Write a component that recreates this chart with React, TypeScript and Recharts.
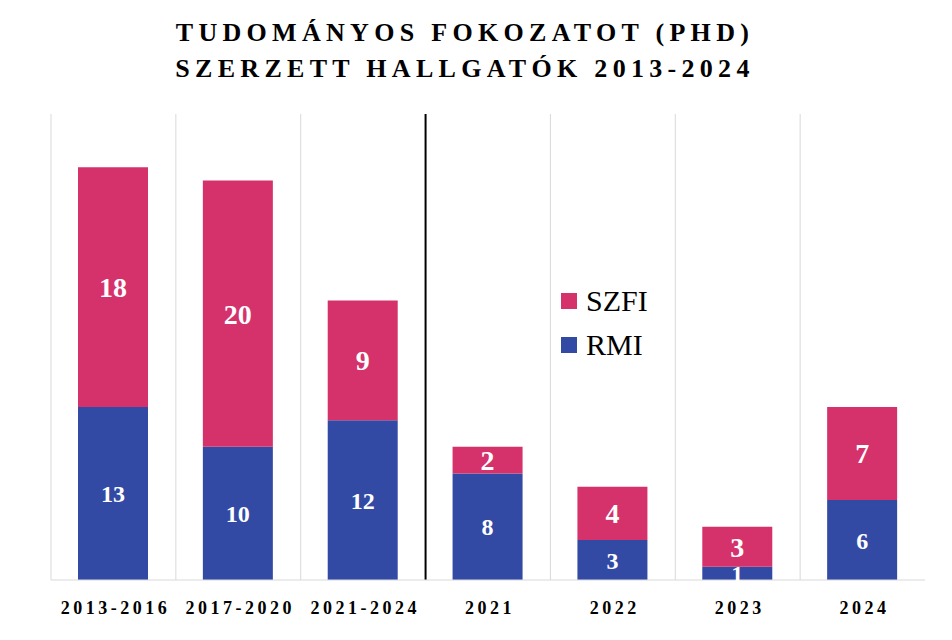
import React from 'react';
import { BarChart, Bar, XAxis, YAxis, LabelList, ReferenceLine, Legend } from 'recharts';

const categories = ['2013-2016', '2017-2020', '2021-2024', '2021', '2022', '2023', '2024'];
const rmiValues = [13, 10, 12, 8, 3, 1, 6];
const szfiValues = [18, 20, 9, 2, 4, 3, 7];
const titleLines = ['TUDOMÁNYOS FOKOZATOT (PHD)', 'SZERZETT HALLGATÓK 2013-2024'];
const gridBefore = ['2013-2016', '2017-2020', '2021-2024', '2022', '2023', '2024'];
const dividerBefore = '2021';

const data = categories.map((c, i) => ({ cat: c, RMI: rmiValues[i], SZFI: szfiValues[i] }));

const SERIF = '"Liberation Serif", "Times New Roman", serif';
const PINK = '#D5316B';
const BLUE = '#334AA5';

const CatTick = (props: any) => {
  const { x, y, payload } = props;
  return (
    <text
      x={x + 2}
      y={y}
      dy={26}
      textAnchor="middle"
      fontFamily={SERIF}
      fontWeight="bold"
      fontSize={18}
      fill="#000"
      style={{ letterSpacing: '3.5px' }}
    >
      {payload.value}
    </text>
  );
};

const LegendContent = (props: any) => {
  const items = [...(props.payload || [])].reverse();
  return (
    <div>
      {items.map((it: any) => (
        <div key={it.value} style={{ display: 'flex', alignItems: 'center', height: 44 }}>
          <div style={{ width: 16, height: 16, background: it.color, marginRight: 9 }} />
          <span style={{ fontFamily: SERIF, fontSize: 30, lineHeight: '44px', color: '#000' }}>{it.value}</span>
        </div>
      ))}
    </div>
  );
};

export default function App() {
  return (
    <div style={{ position: 'absolute', left: 0, top: 0, width: 952, height: 640, background: '#fff' }}>
      <div
        style={{
          position: 'absolute',
          left: 0,
          top: 15,
          width: 930,
          textAlign: 'center',
          fontFamily: SERIF,
          fontWeight: 'bold',
          fontSize: 26,
          lineHeight: '36px',
          letterSpacing: '5.3px',
          color: '#000',
        }}
      >
        {titleLines.map((t) => (
          <div key={t}>{t}</div>
        ))}
      </div>
      <div style={{ position: 'absolute', left: 0, top: 0 }}>
        <BarChart
          width={952}
          height={640}
          data={data}
          margin={{ top: 114, right: 27, bottom: 30, left: 51 }}
          barSize={70}
        >
          <XAxis
            dataKey="cat"
            tickLine={false}
            axisLine={{ stroke: '#d9d9d9', strokeWidth: 1 }}
            tick={<CatTick />}
            interval={0}
            height={30}
          />
          <YAxis domain={[0, 35]} hide />
          {gridBefore.map((c) => (
            <ReferenceLine key={c} x={c} position="start" stroke="#d9d9d9" strokeWidth={1} />
          ))}
          <ReferenceLine x={dividerBefore} position="start" stroke="#000" strokeWidth={2} />
          <Bar dataKey="RMI" stackId="a" fill={BLUE} isAnimationActive={false}>
            <LabelList
              dataKey="RMI"
              position="center"
              fill="#fff"
              fontFamily={SERIF}
              fontWeight="bold"
              fontSize={24}
            />
          </Bar>
          <Bar dataKey="SZFI" stackId="a" fill={PINK} isAnimationActive={false}>
            <LabelList
              dataKey="SZFI"
              position="center"
              fill="#fff"
              fontFamily={SERIF}
              fontWeight="bold"
              fontSize={28}
            />
          </Bar>
          <Legend
            layout="vertical"
            align="center"
            verticalAlign="middle"
            content={<LegendContent />}
            wrapperStyle={{ position: 'absolute', left: 561, top: 279, width: 120 }}
          />
        </BarChart>
      </div>
    </div>
  );
}
